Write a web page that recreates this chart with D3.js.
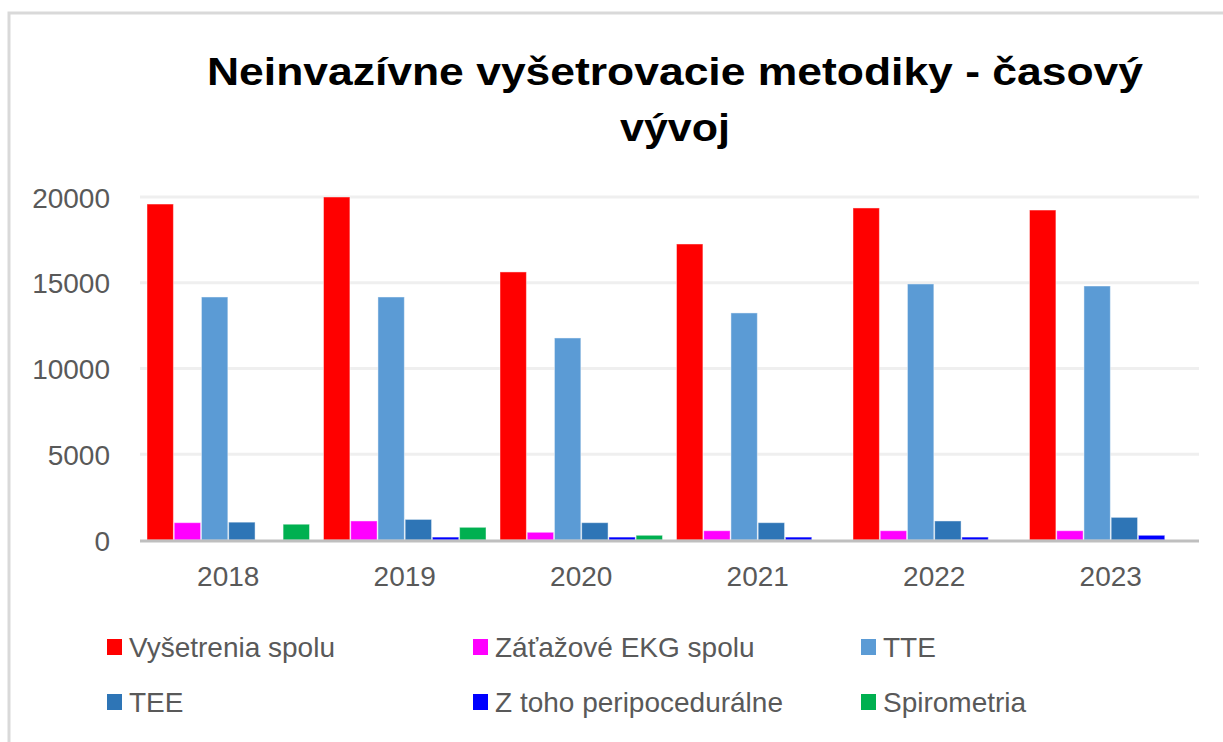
<!DOCTYPE html>
<html><head><meta charset="utf-8">
<script src="https://cdn.jsdelivr.net/npm/d3@7"></script>
<style>body{margin:0;background:#fff}svg{display:block}</style>
</head><body>
<svg id="c" width="1223" height="742"></svg>
<script>
const years = ["2018","2019","2020","2021","2022","2023"];
const seriesNames = ["Vyšetrenia spolu","Záťažové EKG spolu","TTE","TEE","Z toho peripocedurálne","Spirometria"];
const seriesColors = ["#ff0000","#ff00ff","#5b9bd5","#2e75b6","#0000ff","#00b050"];
const vysetrenia = [19590,20000,15630,17260,19360,19240];
const zatazove   = [1010,1110,450,540,540,540];
const tte        = [14170,14170,11780,13240,14930,14810];
const tee        = [1040,1200,1010,1010,1110,1320];
const ztoho      = [null,170,170,170,170,275];
const spiro      = [920,740,275,null,null,null];
const yTicks = [0,5000,10000,15000,20000];
const title = ["Neinvazívne vyšetrovacie metodiky - časový","vývoj"];

const values = [vysetrenia,zatazove,tte,tee,ztoho,spiro];
const svg = d3.select("#c");
const font = "'Liberation Sans', Arial, sans-serif";

// frame
svg.append("path").attr("d","M9,742 V13 H1223").attr("fill","none").attr("stroke","#d9d9d9").attr("stroke-width",3);

// title
svg.selectAll("text.title").data(title).join("text")
  .attr("x",675).attr("y",(d,i)=>85+i*56)
  .attr("text-anchor","middle").attr("font-family",font).attr("font-weight","bold")
  .attr("font-size",39).attr("fill","#000")
  .attr("textLength",(d,i)=>i===0?936:110).attr("lengthAdjust","spacingAndGlyphs")
  .text(d=>d);

const x0 = d3.scaleBand().domain(years).range([140,1199]).padding(0);
const x1 = d3.scaleBand().domain(seriesNames).range([7, x0.bandwidth()-7]).paddingInner(0.03);
const y = d3.scaleLinear().domain([0,20000]).range([540,197]);

// gridlines
svg.append("g").selectAll("line").data(yTicks.filter(t=>t>0)).join("line")
  .attr("x1",140).attr("x2",1199).attr("y1",d=>y(d)).attr("y2",d=>y(d))
  .attr("stroke","#efefef").attr("stroke-width",3);

// y axis labels
const yAxis = d3.axisLeft(y).tickValues(yTicks).tickSize(0).tickPadding(0).tickFormat(d3.format("d"));
const yg = svg.append("g").attr("transform","translate(110,0)").call(yAxis);
yg.select(".domain").remove();
yg.selectAll("text").attr("font-family",font).attr("font-size",28).attr("fill","#595959").attr("dy","0.36em");

// bars
const data = [];
years.forEach((yr,i)=>seriesNames.forEach((s,j)=>{ if(values[j][i]!=null) data.push({yr,s,v:values[j][i],c:seriesColors[j]}); }));
svg.append("g").selectAll("rect").data(data).join("rect")
  .attr("x",d=>x0(d.yr)+x1(d.s)).attr("width",x1.bandwidth())
  .attr("y",d=>y(d.v)).attr("height",d=>y(0)-y(d.v))
  .attr("fill",d=>d.c).attr("stroke","#fff").attr("stroke-opacity",0.45).attr("stroke-width",1);

// x axis
const xAxis = d3.axisBottom(x0).tickSize(0).tickPadding(0);
const xg = svg.append("g").attr("transform","translate(0,540)").call(xAxis);
xg.select(".domain").remove();
xg.selectAll("text").attr("font-family",font).attr("font-size",28).attr("fill","#595959").attr("dy","1.65em");
svg.append("line").attr("x1",140).attr("x2",1199).attr("y1",y(0)+1).attr("y2",y(0)+1)
  .attr("stroke","#bfbfbf").attr("stroke-width",3);

// legend
const legX = [107,473,861], legY = [647,702];
const lg = svg.append("g").selectAll("g").data(seriesNames).join("g")
  .attr("transform",(d,i)=>`translate(${legX[i%3]},${legY[Math.floor(i/3)]})`);
lg.append("rect").attr("x",0).attr("y",-8).attr("width",15).attr("height",16).attr("fill",(d,i)=>seriesColors[i]);
lg.append("text").attr("x",22).attr("y",0).attr("dy","0.36em")
  .attr("font-family",font).attr("font-size",28).attr("fill","#595959").text(d=>d);
</script>
</body></html>
